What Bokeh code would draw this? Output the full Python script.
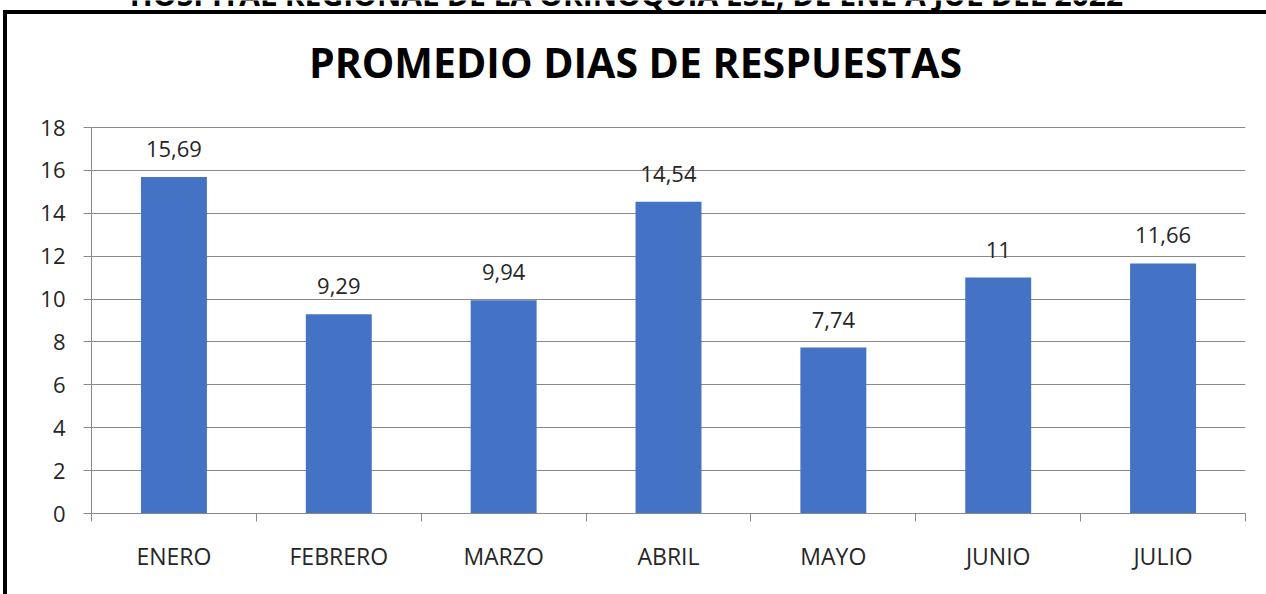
from bokeh.plotting import figure
from bokeh.models import Range1d, FixedTicker, ColumnDataSource, LabelSet, Label
from bokeh.core.properties import value
from bokeh.embed import file_html
from bokeh.resources import INLINE

months = ["ENERO", "FEBRERO", "MARZO", "ABRIL", "MAYO", "JUNIO", "JULIO"]
dias = [15.69, 9.29, 9.94, 14.54, 7.74, 11, 11.66]
dias_labels = ["15,69", "9,29", "9,94", "14,54", "7,74", "11", "11,66"]
y_ticks = [0, 2, 4, 6, 8, 10, 12, 14, 16, 18]
chart_title = "PROMEDIO DIAS DE RESPUESTAS"
header = "HOSPITAL REGIONAL DE LA ORINOQUIA ESE, DE ENE A JUL DEL 2022"

pos = list(range(len(months)))
src = ColumnDataSource(dict(x=pos, dias=dias, lab=dias_labels, month=months))

FONT = "Open Sans"
GRAY = "#898989"
TXT = "#262626"

# the frame reaches the top of the canvas so that the titles (drawn as labels) are not clipped;
# the value axis itself stops at 18 (axis bounds + fixed ticks)
H_PLOT = 513          # frame height in px
H_AXIS = 386          # px between 0 and 18
y_top = y_ticks[-1] * H_PLOT / H_AXIS

p = figure(width=1266, height=594, output_backend="svg", toolbar_location=None,
           x_range=Range1d(-0.5, len(months) - 0.5), y_range=Range1d(0, y_top),
           min_border_left=91, min_border_right=21, min_border_top=0, min_border_bottom=81,
           background_fill_alpha=0, border_fill_alpha=0)
# outer black frame (left and top edges) drawn as CSS inset shadows
p.styles = {"box-shadow": "inset 3px 10px 0 0 white, inset 7px 14px 0 0 black"}
p.outline_line_color = None

p.vbar(x="x", top="dias", width=0.4, source=src, fill_color="#4472C4", line_color=None)

p.add_layout(LabelSet(x="x", y="dias", text="lab", source=src, text_align="center",
                      text_baseline="bottom", y_offset=20, text_font=value(FONT),
                      text_font_size="22px", text_color=TXT))

# x axis
xa = p.xaxis[0]
xa.ticker = FixedTicker(ticks=pos, minor_ticks=[i - 0.5 for i in range(len(months) + 1)])
xa.major_label_overrides = {i: m for i, m in zip(pos, months)}
xa.major_tick_out = 0
xa.major_tick_in = 0
xa.minor_tick_out = 8
xa.minor_tick_in = 0
xa.minor_tick_line_color = GRAY
xa.axis_line_color = GRAY
xa.major_label_standoff = 18
xa.major_label_text_font = FONT
xa.major_label_text_font_size = "23px"
xa.major_label_text_color = TXT

# y axis
ya = p.yaxis[0]
ya.ticker = FixedTicker(ticks=y_ticks)
ya.bounds = (y_ticks[0], y_ticks[-1])
ya.major_tick_out = 8
ya.major_tick_in = 0
ya.minor_tick_line_color = None
ya.major_tick_line_color = GRAY
ya.axis_line_color = GRAY
ya.major_label_standoff = 18
ya.major_label_text_font = FONT
ya.major_label_text_font_size = "22px"
ya.major_label_text_color = TXT

p.xgrid.grid_line_color = None
p.ygrid.ticker = FixedTicker(ticks=y_ticks)
p.ygrid.grid_line_color = GRAY

# chart title, centred on the whole chart box
p.add_layout(Label(x=544, y=452, x_units="screen", y_units="screen", text=chart_title,
                   text_align="center", text_baseline="alphabetic", text_font=FONT,
                   text_font_style="bold", text_font_size="41px", text_color="black"))

# header of the page, cut off at the top edge as in the source image
p.add_layout(Label(x=535, y=519, x_units="screen", y_units="screen", text=header,
                   text_align="center", text_baseline="alphabetic", text_font=FONT,
                   text_font_style="bold", text_font_size="30px", text_color="black"))

open("out.html", "w").write(file_html(p, INLINE))
